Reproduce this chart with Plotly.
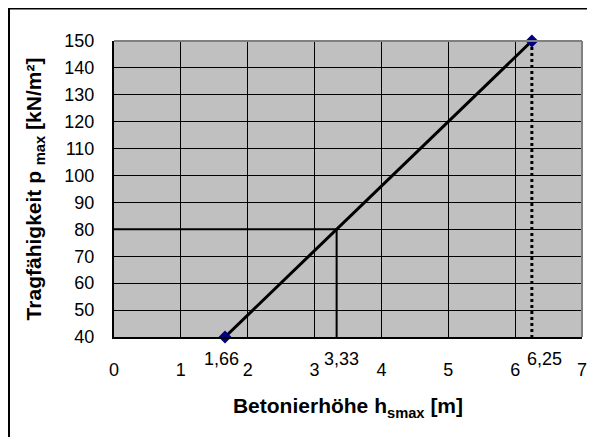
import plotly.graph_objects as go

# Data
h_points = [1.66, 6.25]          # Betonierhöhe [m]
p_points = [40, 150]             # Tragfähigkeit [kN/m²]
ref_h = 3.33
ref_p = 80
label_values = [1.66, 3.33, 6.25]
label_texts = ["1,66", "3,33", "6,25"]
label_shifts = [-3, 5, 13]
x_ticks = [0, 1, 2, 3, 4, 5, 6, 7]
y_ticks = [40, 50, 60, 70, 80, 90, 100, 110, 120, 130, 140, 150]

FONT = "Liberation Sans, Arial, sans-serif"

# page body has an 8px default margin -> figure is sized/positioned to compensate
W, H = 587, 429
L, R, T, B = 106, 13, 33, 100
PW, PH = W - L - R, H - T - B

fig = go.Figure()

# reference lines
fig.add_trace(go.Scatter(x=[0, ref_h, ref_h], y=[ref_p, ref_p, p_points[0]],
                         mode="lines", line=dict(color="black", width=2),
                         hoverinfo="skip", showlegend=False))
fig.add_trace(go.Scatter(x=[h_points[1], h_points[1]], y=[p_points[1], p_points[0]],
                         mode="lines", line=dict(color="black", width=3, dash="dot"),
                         hoverinfo="skip", showlegend=False))
# main line
fig.add_trace(go.Scatter(x=h_points, y=p_points, mode="lines+markers",
                         line=dict(color="black", width=3), cliponaxis=False,
                         marker=dict(symbol="diamond", size=10, color="#000080"),
                         showlegend=False))

for v, t, s in zip(label_values, label_texts, label_shifts):
    fig.add_annotation(x=v, y=0, xref="x", yref="paper", text=t, showarrow=False,
                       xanchor="center", yanchor="middle", yshift=-22, xshift=s,
                       font=dict(family=FONT, size=18, color="black"))

# outer border
fig.add_shape(type="rect", xref="paper", yref="paper",
              x0=(1 - L) / PW, x1=(W + 10 - L) / PW,
              y0=-(B + 10) / PH, y1=1 + (T - 0.5) / PH,
              line=dict(color="black", width=2), fillcolor="rgba(0,0,0,0)", layer="below")

fig.update_layout(
    width=W, height=H,
    margin=dict(l=L, r=R, t=T, b=B, autoexpand=False),
    paper_bgcolor="white",
    plot_bgcolor="#C0C0C0",
    font=dict(family=FONT, color="black"),
    xaxis=dict(range=[0, 7], tickvals=x_ticks, showgrid=True, gridcolor="black", gridwidth=1,
               showline=True, linecolor="black", linewidth=2, mirror=False, automargin=False,
               zeroline=False, ticks="", ticklabelstandoff=15,
               tickfont=dict(family=FONT, size=18),
               title=dict(text="<b>Betonierhöhe h<sub>smax</sub> [m]</b>", standoff=20,
                          font=dict(family=FONT, size=21))),
    yaxis=dict(range=[40, 150], tickvals=y_ticks, showgrid=True, gridcolor="black", gridwidth=1,
               showline=True, linecolor="black", linewidth=2, mirror=False, automargin=False,
               zeroline=False, ticks="", ticklabelstandoff=14,
               tickfont=dict(family=FONT, size=18),
               title=dict(text="<b>Tragfähigkeit p <sub>max</sub> [kN/m²]</b>", standoff=17,
                          font=dict(family=FONT, size=21))),
)
# gray top/right border of plot area
fig.add_shape(type="line", xref="paper", yref="paper", x0=0, x1=1, y0=1, y1=1,
              line=dict(color="#808080", width=2))
fig.add_shape(type="line", xref="paper", yref="paper", x0=1, x1=1, y0=0, y1=1,
              line=dict(color="#808080", width=2))

fig.write_html("out.html")
